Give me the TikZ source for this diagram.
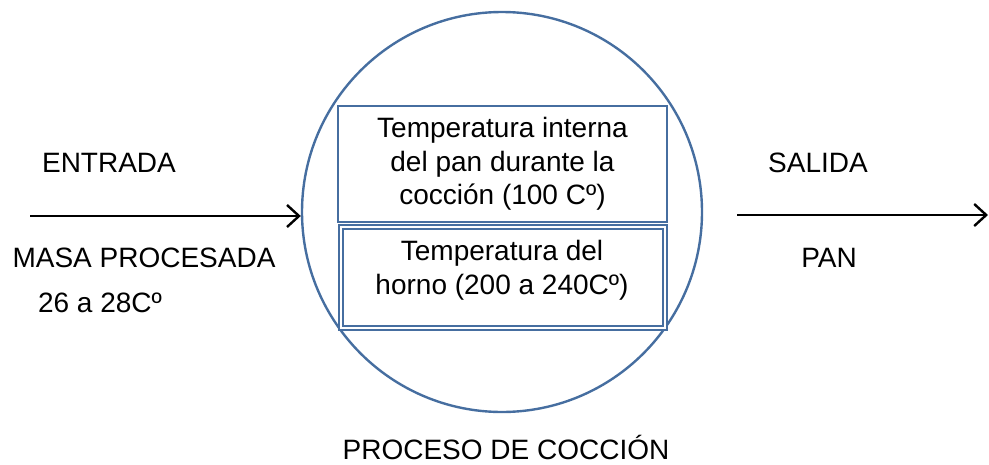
\documentclass[tikz,border=0pt]{standalone}
\usepackage{fontspec}
\setmainfont{Liberation Sans}
\usetikzlibrary{arrows.meta}
\definecolor{marco}{RGB}{70,110,160}
\begin{document}
\begin{tikzpicture}[x=1pt, y=-1pt,
        texto/.style={font=\fontsize{28}{33.5}\selectfont, inner sep=0pt, align=center},
        caja/.style={draw=marco, line width=2.4pt, inner sep=0pt},
        flecha/.style={line width=2.4pt, -{Straight Barb[length=12pt,width=22pt]}}
    ]
    \useasboundingbox (0,0) rectangle (989,464);

    % --- Proceso (circulo) ---
    \node[caja, circle, minimum size=400pt] (proceso) at (502,212) {};
    \node[texto] (procesoTxt) at (506,447) {PROCESO DE COCCIÓN};

    % --- Cajas interiores ---
    \node[caja, texto, minimum width=329pt, minimum height=116pt] (interna) at (502.5,164)
        {Temperatura interna\\del pan durante la\\cocción (100 Cº)};
    \node[caja, double=white, double distance=2.5pt, line width=1.8pt,
          minimum width=324pt, minimum height=101pt] (horno) at (502.75,277.5) {};
    \node[texto] (hornoTxt) at (502,270) {Temperatura del\\horno (200 a 240Cº)};

    % --- Entrada ---
    \node[texto] (entrada) at (109,163) {ENTRADA};
    \node[texto] (masa) at (144,258) {MASA PROCESADA};
    \node[texto] (tempMasa) at (100,303) {26 a 28Cº};
    \coordinate (inicio) at (30,216);
    \draw[flecha] (inicio) -- (inicio -| proceso.west);

    % --- Salida ---
    \node[texto] (salida) at (818,163) {SALIDA};
    \node[texto] (pan) at (829,258) {PAN};
    \coordinate (salIni) at (737,215);
    \coordinate (salFin) at (988,215);
    \draw[flecha] (salIni) -- (salFin);

\end{tikzpicture}
\end{document}
